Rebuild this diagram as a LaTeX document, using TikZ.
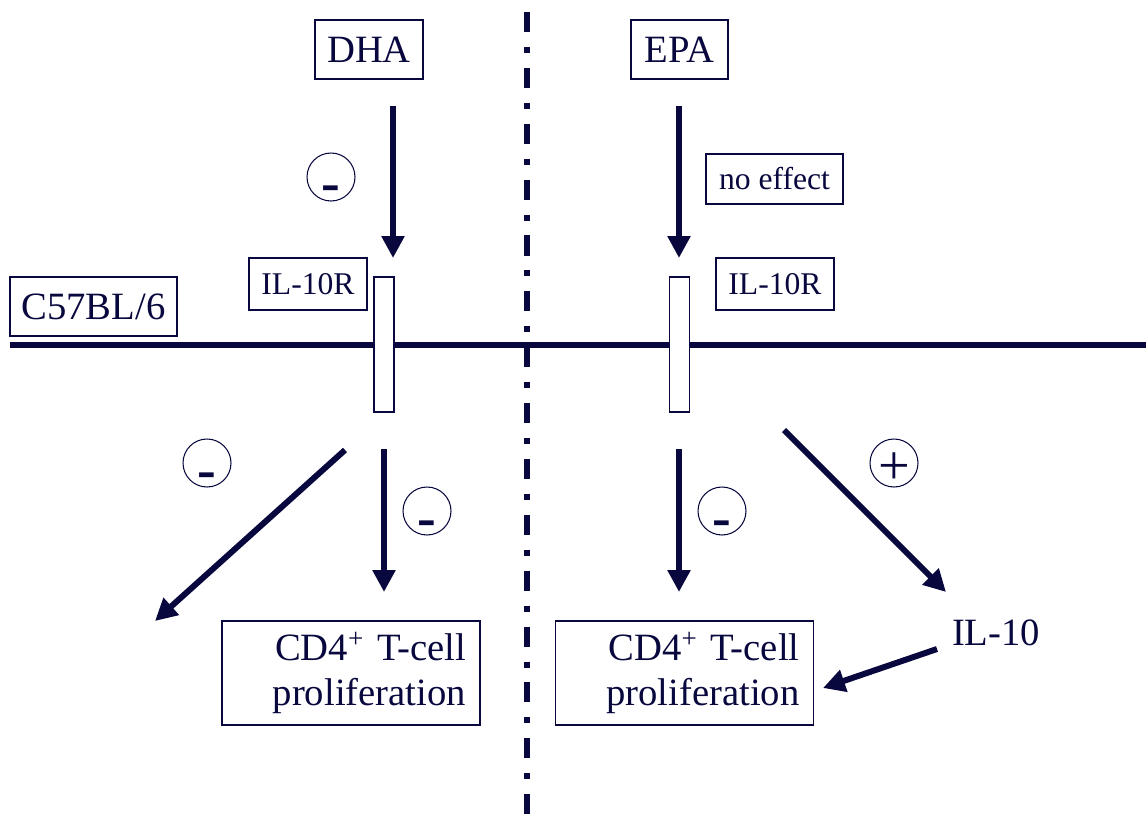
\documentclass[tikz,border=0pt]{standalone}
\usepackage{fontspec}
\setmainfont{Liberation Serif}
\usetikzlibrary{arrows.meta}
\definecolor{navy}{RGB}{8,8,62}
\tikzset{
  box/.style={draw=navy, line width=0.7pt, text=navy, inner sep=0pt, minimum height=1.18cm, font=\fontsize{22}{25.6}\selectfont},
  small/.style={box, minimum height=1.04cm, font=\fontsize{18}{20}\selectfont},
  cell/.style={box, minimum height=2.08cm, align=right, text width=4.6cm, inner xsep=0.28cm},
  rec/.style={draw=navy, fill=white, line width=0.7pt, minimum width=0.4cm, minimum height=2.7cm, inner sep=0pt},
  sign/.style={circle, draw=navy, line width=0.6pt, minimum size=0.96cm, inner sep=0pt, text=navy, text height=0.3cm, text depth=0.3cm},
  minus/.style={sign, font=\fontsize{32}{32}\selectfont\bfseries},
  plus/.style={sign, font=\fontsize{32}{32}\selectfont},
  arr/.style={draw=navy, line width=0.12cm, -{Triangle[length=0.44cm,width=0.44cm]}},
  sep/.style={draw=navy, line width=0.12cm, dash pattern=on 11.4pt off 8.5pt on 3.4pt off 8.5pt}
}

\begin{document}
\begin{tikzpicture}[x=0.02cm, y=-0.02cm]
    \useasboundingbox (0,0) rectangle (1146,825);

    % membrane and divider
    \coordinate (memL) at (10,345);
    \coordinate (memR) at (1146,345);
    \coordinate (sepT) at (527,12);
    \coordinate (sepB) at (527,825);
    \draw [navy, line width=0.11cm] (memL) -- (memR);
    \draw [sep] (sepT) -- (sepB);

    % receptors
    \node [rec] (recL) at (384,344.5) {};
    \node [rec] (recR) at (679.5,344.5) {};

    % labels
    \node [box, minimum width=2.16cm] (dha) at (369,49.5) {DHA};
    \node [box, minimum width=1.94cm] (epa) at (679.5,49.5) {EPA};
    \node [box, minimum width=3.34cm] (strain) at (93.5,306.5) {C57BL/6};
    \node [small, minimum width=2.36cm] (ilrL) at (308,284) {IL-10R};
    \node [small, minimum width=2.36cm] (ilrR) at (775,284) {IL-10R};
    \node [small, minimum width=2.74cm, minimum height=1.0cm] (noeff) at (774.5,179) {no effect};
    \node [cell] (cdL) at (351,673) {CD4\textsuperscript{+} T-cell\\proliferation};
    \node [cell] (cdR) at (684.5,673) {CD4\textsuperscript{+} T-cell\\proliferation};
    \node [text=navy, font=\fontsize{22}{25.6}\selectfont] (il10) at (996,633) {IL-10};

    % signs
    \node [minus] (s1) at (331,177) {\raisebox{-0.5cm}{-}};
    \node [minus] (s2) at (207,463) {\raisebox{-0.5cm}{-}};
    \node [minus] (s3) at (427,511) {\raisebox{-0.5cm}{-}};
    \node [minus] (s4) at (722,511) {\raisebox{-0.5cm}{-}};
    \node [plus] (s5) at (894,463) {\raisebox{-0.42cm}{+}};

    % arrow ends
    \coordinate (a1) at (393,106);
    \coordinate (b1) at (393,258);
    \coordinate (a2) at (679,106);
    \coordinate (b2) at (679,258);
    \coordinate (a3) at (345,450);
    \coordinate (b3) at (155,621);
    \coordinate (a4) at (384,449);
    \coordinate (b4) at (384,592);
    \coordinate (a5) at (679,449);
    \coordinate (b5) at (679,592);
    \coordinate (a6) at (784,430);
    \coordinate (b6) at (946,592);
    \coordinate (a7) at (937,649);
    \coordinate (b7) at (823,688);

    \draw [arr] (a1) -- (b1);
    \draw [arr] (a2) -- (b2);
    \draw [arr] (a3) -- (b3);
    \draw [arr] (a4) -- (b4);
    \draw [arr] (a5) -- (b5);
    \draw [arr] (a6) -- (b6);
    \draw [arr] (a7) -- (b7);
\end{tikzpicture}
\end{document}
